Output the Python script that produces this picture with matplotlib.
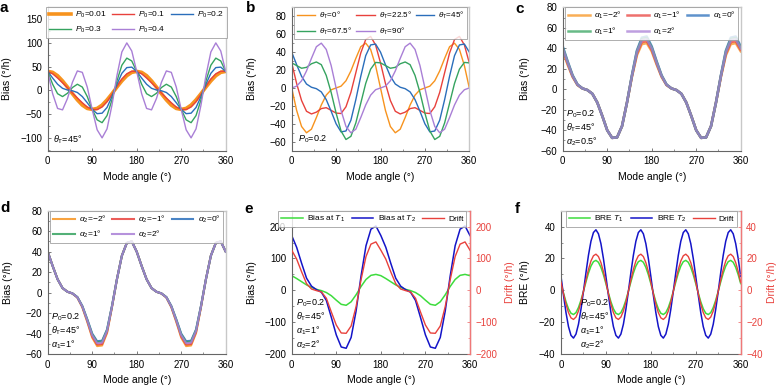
import numpy as np
import matplotlib
matplotlib.use("Agg")
import matplotlib.pyplot as plt
from matplotlib.ticker import MultipleLocator

plt.rcParams['font.family'] = ['Liberation Sans', 'DejaVu Sans']
plt.rcParams['mathtext.fontset'] = 'custom'
plt.rcParams['mathtext.rm'] = 'Liberation Sans'
plt.rcParams['mathtext.it'] = 'Liberation Sans:italic'
plt.rcParams['mathtext.bf'] = 'Liberation Sans:bold'

# mode angle samples (deg)
angle = np.arange(0, 361, 10)
angle_f = np.arange(0, 361, 5)

# ---- panel a: bias for different P0 (thetaT = 45)
a_p001 = [40, 38, 31, 20, 7, -7, -20, -31, -38, -40, -38, -31, -20, -7, 7, 20, 31, 38, 40,
          38, 31, 20, 7, -7, -20, -31, -38, -40, -38, -31, -20, -7, 7, 20, 31, 38, 40]
a_p01 = [40, 35, 26, 16, 5.5, -5.5, -16, -26, -35, -40, -40.4, -35, -24, -8.5, 8.5, 24, 35, 40.4, 40,
         35, 26, 16, 5.5, -5.5, -16, -26, -35, -40, -40.4, -35, -24, -8.5, 8.5, 24, 35, 40.4, 40]
a_p02 = [40, 26, 13, 4.4, 0.8, -0.8, -4.4, -13, -26, -40, -49, -48, -36, -13, 13, 36, 48, 49, 40,
         26, 13, 4.4, 0.8, -0.8, -4.4, -13, -26, -40, -49, -48, -36, -13, 13, 36, 48, 49, 40]
a_p03 = [40, 13, -7, -13, -6, 6, 13, 7, -13, -40, -62, -68, -53, -20, 20, 53, 68, 62, 40,
         13, -7, -13, -6, 6, 13, 7, -13, -40, -62, -68, -53, -20, 20, 53, 68, 62, 40]
a_p04 = [40, -7, -38, -41, -17, 17, 41, 38, 7, -40, -83, -100, -81, -31, 31, 81, 100, 83, 40,
         -7, -38, -41, -17, 17, 41, 38, 7, -40, -83, -100, -81, -31, 31, 81, 100, 83, 40]
a_labels = ['$P_0$=0.01', '$P_0$=0.1', '$P_0$=0.2', '$P_0$=0.3', '$P_0$=0.4']

# ---- panel b: bias for different thetaT (P0 = 0.2)
b_t0 = [0, -25, -43, -50, -46, -33, -19, -8, -2, 0, 2, 8, 19, 33, 46, 50, 43, 25, 0,
        -25, -43, -50, -46, -33, -19, -8, -2, 0, 2, 8, 19, 33, 46, 50, 43, 25, 0]
b_t225 = [28, 5, -14, -26, -29, -27, -23, -22, -25, -28, -28.5, -21, -5, 17, 39, 54, 57.5, 48, 28,
          5, -14, -26, -29, -27, -23, -22, -25, -28, -28.5, -21, -5, 17, 39, 54, 57.5, 48, 28]
b_t45 = [40, 26, 13, 4.4, 0.8, -0.8, -4.4, -13, -26, -40, -49, -48, -36, -13, 13, 36, 48, 49, 40,
         26, 13, 4.4, 0.8, -0.8, -4.4, -13, -26, -40, -49, -48, -36, -13, 13, 36, 48, 49, 40]
b_t675 = [28, 25, 22, 23, 27, 29, 26, 14, -5, -28, -48, -57.5, -54, -39, -17, 5, 21, 28.5, 28,
          25, 22, 23, 27, 29, 26, 14, -5, -28, -48, -57.5, -54, -39, -17, 5, 21, 28.5, 28]
b_t90 = [0, 2, 8, 19, 33, 46, 50, 43, 25, 0, -25, -43, -50, -46, -33, -19, -8, -2, 0,
         2, 8, 19, 33, 46, 50, 43, 25, 0, -25, -43, -50, -46, -33, -19, -8, -2, 0]
b_labels = [r'$\theta_{\rm T}$=0°', r'$\theta_{\rm T}$=22.5°', r'$\theta_{\rm T}$=45°',
            r'$\theta_{\rm T}$=67.5°', r'$\theta_{\rm T}$=90°']

# ---- panel c: bias for different alpha1
c_m2 = [37, 24, 12, 4, 0.7, -0.8, -4.4, -13, -26, -40, -47.5, -47, -36, -13, 12, 33, 44, 45, 37,
        24, 12, 4, 0.7, -0.8, -4.4, -13, -26, -40, -47.5, -47, -36, -13, 12, 33, 44, 45, 37]
c_m1 = [38.4, 25, 12.5, 4.2, 0.8, -0.8, -4.4, -13, -26, -40, -47.5, -47, -36, -13, 12.5, 34.5, 46, 47, 38.4,
        25, 12.5, 4.2, 0.8, -0.8, -4.4, -13, -26, -40, -47.5, -47, -36, -13, 12.5, 34.5, 46, 47, 38.4]
c_0 = [42, 27.3, 13.7, 4.6, 0.8, -0.8, -4.4, -13, -26, -40, -47.5, -47, -36, -13, 13.7, 37.8, 50.4, 51.5, 42,
       27.3, 13.7, 4.6, 0.8, -0.8, -4.4, -13, -26, -40, -47.5, -47, -36, -13, 13.7, 37.8, 50.4, 51.5, 42]
c_p1 = [40.8, 26.5, 13.3, 4.5, 0.8, -0.8, -4.4, -13, -26, -40, -47.5, -47, -36, -13, 13.3, 36.7, 49, 50, 40.8,
        26.5, 13.3, 4.5, 0.8, -0.8, -4.4, -13, -26, -40, -47.5, -47, -36, -13, 13.3, 36.7, 49, 50, 40.8]
c_p2 = [40, 26, 13, 4.4, 0.8, -0.8, -4.4, -13, -26, -40, -47.5, -47, -36, -13, 13, 36, 48, 49, 40,
        26, 13, 4.4, 0.8, -0.8, -4.4, -13, -26, -40, -47.5, -47, -36, -13, 13, 36, 48, 49, 40]
c_labels = [r'$\alpha_1$=−2°', r'$\alpha_1$=−1°', r'$\alpha_1$=0°', r'$\alpha_1$=1°', r'$\alpha_1$=2°']

# ---- panel d: bias for different alpha2
d_m2 = [40, 26, 13, 4.4, 0.8, -0.9, -4.8, -14.3, -28.6, -44, -52.3, -51.7, -39.6, -14.3, 13, 36, 48.5, 50, 40,
        26, 13, 4.4, 0.8, -0.9, -4.8, -14.3, -28.6, -44, -52.3, -51.7, -39.6, -14.3, 13, 36, 48.5, 50, 40]
d_m1 = [40, 26, 13, 4.4, 0.8, -0.9, -4.7, -13.9, -27.8, -42.8, -50.8, -50.3, -38.5, -13.9, 13, 36, 48.5, 50, 40,
        26, 13, 4.4, 0.8, -0.9, -4.7, -13.9, -27.8, -42.8, -50.8, -50.3, -38.5, -13.9, 13, 36, 48.5, 50, 40]
d_0 = [40, 26, 13, 4.4, 0.8, -0.8, -4.4, -13, -26, -40, -47.5, -47, -36, -13, 13, 36, 48.5, 50, 40,
       26, 13, 4.4, 0.8, -0.8, -4.4, -13, -26, -40, -47.5, -47, -36, -13, 13, 36, 48.5, 50, 40]
d_p1 = [40, 26, 13, 4.4, 0.8, -0.8, -4.5, -13.3, -26.5, -40.8, -48.5, -47.9, -36.7, -13.3, 13, 36, 48.5, 50, 40,
        26, 13, 4.4, 0.8, -0.8, -4.5, -13.3, -26.5, -40.8, -48.5, -47.9, -36.7, -13.3, 13, 36, 48.5, 50, 40]
d_p2 = [40, 26, 13, 4.4, 0.8, -0.8, -4.6, -13.5, -27, -41.6, -49.4, -48.9, -37.4, -13.5, 13, 36, 48.5, 50, 40,
        26, 13, 4.4, 0.8, -0.8, -4.6, -13.5, -27, -41.6, -49.4, -48.9, -37.4, -13.5, 13, 36, 48.5, 50, 40]
d_labels = [r'$\alpha_2$=−2°', r'$\alpha_2$=−1°', r'$\alpha_2$=0°', r'$\alpha_2$=1°', r'$\alpha_2$=2°']

# ---- panel e: bias at T1, T2 and drift
e_t1 = [46, 37, 27, 17, 9, 3, -1, -7, -17, -31, -44, -47, -36, -14, 12, 34, 47, 50, 46,
        37, 27, 17, 9, 3, -1, -7, -17, -31, -44, -47, -36, -14, 12, 34, 47, 50, 46]
e_t2 = [172, 135, 85, 38, 13, 2, -6, -32, -85, -140, -178, -182, -148, -65, 45, 140, 192, 202, 172,
        135, 85, 38, 13, 2, -6, -32, -85, -140, -178, -182, -148, -65, 45, 140, 192, 202, 172]
e_drift = [126, 98, 58, 21, 4, -1, -5, -25, -68, -109, -134, -135, -112, -51, 33, 106, 145, 152, 126,
           98, 58, 21, 4, -1, -5, -25, -68, -109, -134, -135, -112, -51, 33, 106, 145, 152, 126]

# ---- panel f: BRE at T1, T2 and drift (5 deg steps)
f_t1 = [4.2, -1.7, -7.2, -11.6, -14.4, -15.2, -14.0, -10.8, -6.2, -0.6, 5.3, 10.8, 15.2, 18.0, 18.8, 17.6, 14.4, 9.8,
        4.2, -1.7, -7.2, -11.6, -14.4, -15.2, -14.0, -10.8, -6.2, -0.6, 5.3, 10.8, 15.2, 18.0, 18.8, 17.6, 14.4, 9.8,
        4.2, -1.7, -7.2, -11.6, -14.4, -15.2, -14.0, -10.8, -6.2, -0.6, 5.3, 10.8, 15.2, 18.0, 18.8, 17.6, 14.4, 9.8,
        4.2, -1.7, -7.2, -11.6, -14.4, -15.2, -14.0, -10.8, -6.2, -0.6, 5.3, 10.8, 15.2, 18.0, 18.8, 17.6, 14.4, 9.8,
        4.2]
f_t2 = [8.7, -3.1, -14.0, -22.8, -28.3, -30.0, -27.5, -21.3, -11.9, -0.7, 11.1, 22.0, 30.8, 36.3, 38.0, 35.5, 29.3, 19.9,
        8.7, -3.1, -14.0, -22.8, -28.3, -30.0, -27.5, -21.3, -11.9, -0.7, 11.1, 22.0, 30.8, 36.3, 38.0, 35.5, 29.3, 19.9,
        8.7, -3.1, -14.0, -22.8, -28.3, -30.0, -27.5, -21.3, -11.9, -0.7, 11.1, 22.0, 30.8, 36.3, 38.0, 35.5, 29.3, 19.9,
        8.7, -3.1, -14.0, -22.8, -28.3, -30.0, -27.5, -21.3, -11.9, -0.7, 11.1, 22.0, 30.8, 36.3, 38.0, 35.5, 29.3, 19.9,
        8.7]
f_drift = [5.0, -2.1, -8.7, -14.0, -17.3, -18.3, -16.8, -13.0, -7.4, -0.6, 6.5, 13.1, 18.4, 21.7, 22.7, 21.2, 17.4, 11.8,
           5.0, -2.1, -8.7, -14.0, -17.3, -18.3, -16.8, -13.0, -7.4, -0.6, 6.5, 13.1, 18.4, 21.7, 22.7, 21.2, 17.4, 11.8,
           5.0, -2.1, -8.7, -14.0, -17.3, -18.3, -16.8, -13.0, -7.4, -0.6, 6.5, 13.1, 18.4, 21.7, 22.7, 21.2, 17.4, 11.8,
           5.0, -2.1, -8.7, -14.0, -17.3, -18.3, -16.8, -13.0, -7.4, -0.6, 6.5, 13.1, 18.4, 21.7, 22.7, 21.2, 17.4, 11.8,
           5.0]

colors5 = ['#f7931e', '#e8413c', '#2a6ebb', '#35a35f', '#a97fd6']
GREEN2 = '#3ddc3d'
BLUE2 = '#1414c8'
RED2 = '#e8413c'
DRIFT_AXIS = '#f07878'
ORDER = [0, 3, 1, 4, 2]  # row-wise fill of a 3-column legend
TICK_FS = 7
LABEL_FS = 7.5

W, H = 778, 387
fig = plt.figure(figsize=(W / 100, H / 100), dpi=100)


def add_axes(left, top, right, bottom):
    return fig.add_axes([left / W, 1 - bottom / H, (right - left) / W, (bottom - top) / H])


def setup(ax, ylim, ystep, ylabel, ylab_x):
    ax.set_xlim(0, 360)
    ax.set_ylim(*ylim)
    ax.xaxis.set_major_locator(MultipleLocator(90))
    ax.xaxis.set_minor_locator(MultipleLocator(45))
    ax.yaxis.set_major_locator(MultipleLocator(ystep))
    ax.yaxis.set_minor_locator(MultipleLocator(ystep / 2))
    ax.tick_params(which='major', direction='in', labelsize=TICK_FS, length=2.5, width=0.6,
                   color='#666666', pad=4)
    ax.tick_params(which='minor', direction='in', length=1.5, width=0.5, color='#666666')
    for s in ('left', 'bottom'):
        ax.spines[s].set_color('#666666')
        ax.spines[s].set_linewidth(0.8)
    for s in ('top', 'right'):
        ax.spines[s].set_color('#c8c8c8')
        ax.spines[s].set_linewidth(1.0)
    ax.set_xlabel('Mode angle (°)', fontsize=LABEL_FS)
    ax.xaxis.set_label_coords(0.5, -0.15)
    ax.set_ylabel(ylabel, fontsize=LABEL_FS)
    ax.yaxis.set_label_coords(ylab_x, 0.5)


def legend5(ax, lines, labels, fs=6, hl=2.6, cs=0.8):
    h = [lines[i] for i in ORDER]
    l = [labels[i] for i in ORDER]
    leg = ax.legend(h, l, ncol=3, loc='upper center', bbox_to_anchor=(0.5, 1.0), borderaxespad=0,
                    fontsize=fs, frameon=True, fancybox=False, edgecolor='#999999',
                    handlelength=hl, handletextpad=0.5, columnspacing=cs, labelspacing=0.5,
                    borderpad=0.35)
    leg.get_frame().set_linewidth(0.7)
    return leg


def note(ax, x, y, s):
    ax.text(x, y, s, fontsize=6.5, va='bottom', ha='left', linespacing=1.15)


# ---------------- a
ax = add_axes(47.7, 7.3, 225.7, 150.7)
series = [a_p001, a_p01, a_p02, a_p03, a_p04]
widths = [2.6, 1.0, 1.0, 1.0, 1.0]
lines = [ax.plot(angle, v, color=c, lw=w)[0] for v, c, w in zip(series, colors5, widths)]
setup(ax, (-127, 175), 50, 'Bias (°/h)', -0.202)
legend5(ax, lines, a_labels, cs=0.7)
note(ax, 10, -117, r'$\theta_{\rm T}$=45°')

# ---------------- b
ax = add_axes(291.7, 7.3, 469.3, 150.7)
series = [b_t0, b_t225, b_t45, b_t675, b_t90]
lines = [ax.plot(angle, v, color=c, lw=1.0)[0] for v, c in zip(series, colors5)]
setup(ax, (-70, 90), 20, 'Bias (°/h)', -0.195)
legend5(ax, lines, b_labels, fs=5.8, hl=2.3, cs=0.5)
note(ax, 12, -64, '$P_0$=0.2')

# ---------------- c
ax = add_axes(562.7, 7.3, 740.7, 150.7)
series = [c_m2, c_m1, c_0, c_p1, c_p2]
lines = [ax.plot(angle, v, color=c, lw=1.8, alpha=0.75)[0] for v, c in zip(series, colors5)]
setup(ax, (-60, 80), 20, 'Bias (°/h)', -0.184)
legend5(ax, lines, c_labels, cs=0.7)
note(ax, 6, -57, '$P_0$=0.2\n' + r'$\theta_{\rm T}$=45°' + '\n' + r'$\alpha_2$=0.5°')

# ---------------- d
ax = add_axes(47.7, 210.7, 225.7, 354)
series = [d_m2, d_m1, d_0, d_p1, d_p2]
lines = [ax.plot(angle, v, color=c, lw=1.5, alpha=0.85)[0] for v, c in zip(series, colors5)]
setup(ax, (-60, 80), 20, 'Bias (°/h)', -0.193)
legend5(ax, lines, d_labels, cs=0.7)
note(ax, 6, -57, '$P_0$=0.2\n' + r'$\theta_{\rm T}$=45°' + '\n' + r'$\alpha_1$=1°')


# ---------------- e and f (twin drift axis)
def twin_panel(left, right, x, y1, y2, yd, ylim, ystep, labels, ylabel, ylab_x, rlab_x):
    ax = add_axes(left, 210.7, right, 354)
    l1, = ax.plot(x, y1, color=GREEN2, lw=1.1)
    l2, = ax.plot(x, y2, color=BLUE2, lw=1.1)
    setup(ax, ylim, ystep, ylabel, ylab_x)
    ax2 = ax.twinx()
    l3, = ax2.plot(x, yd, color=RED2, lw=1.0)
    ax2.set_ylim(*ylim)
    ax2.yaxis.set_major_locator(MultipleLocator(ystep))
    ax2.yaxis.set_minor_locator(MultipleLocator(ystep / 2))
    ax2.tick_params(which='major', direction='in', labelsize=TICK_FS, length=2.5, width=0.6,
                    color=DRIFT_AXIS, labelcolor=RED2, pad=4)
    ax2.tick_params(which='minor', direction='in', length=1.5, width=0.5, color=DRIFT_AXIS)
    ax2.spines['right'].set_color(DRIFT_AXIS)
    ax2.spines['right'].set_linewidth(1.0)
    for s in ('left', 'top', 'bottom'):
        ax2.spines[s].set_visible(False)
    ax2.set_ylabel('Drift (°/h)', fontsize=LABEL_FS, color=RED2)
    ax2.yaxis.set_label_coords(rlab_x, 0.5)
    leg = ax2.legend([l1, l2, l3], labels, ncol=3, loc='upper right', bbox_to_anchor=(0.98, 1.0),
                     borderaxespad=0, fontsize=6, frameon=True, fancybox=False,
                     edgecolor='#999999', handlelength=2.6, handletextpad=0.5,
                     columnspacing=0.8, borderpad=0.35)
    leg.get_frame().set_linewidth(0.7)
    return ax


ax = twin_panel(291.7, 470, angle, e_t1, e_t2, e_drift, (-200, 250), 100,
                ['Bias at $T_1$', 'Bias at $T_2$', 'Drift'], 'Bias (°/h)', -0.197, 1.196)
note(ax, 8, -190, '$P_0$=0.2\n' + r'$\theta_{\rm T}$=45°' + '\n' + r'$\alpha_1$=1°' + '\n' + r'$\alpha_2$=2°')

ax = twin_panel(561, 740.7, angle_f, f_t1, f_t2, f_drift, (-40, 50), 20,
                ['BRE $T_1$', 'BRE $T_2$', 'Drift'], 'BRE (°/h)', -0.173, 1.145)
note(ax, 38, -38, '$P_0$=0.2\n' + r'$\theta_{\rm T}$=45°' + '\n' + r'$\alpha_1$=1°' + '\n' + r'$\alpha_2$=2°')

# panel letters
for letter, px, py in [('a', 0, 1), ('b', 246, 1), ('c', 515, 2),
                       ('d', 0, 201), ('e', 244, 202), ('f', 515, 202)]:
    fig.text(px / W, 1 - py / H, letter, fontsize=11, fontweight='bold', va='top', ha='left')

fig.savefig('out.png', dpi=100)
